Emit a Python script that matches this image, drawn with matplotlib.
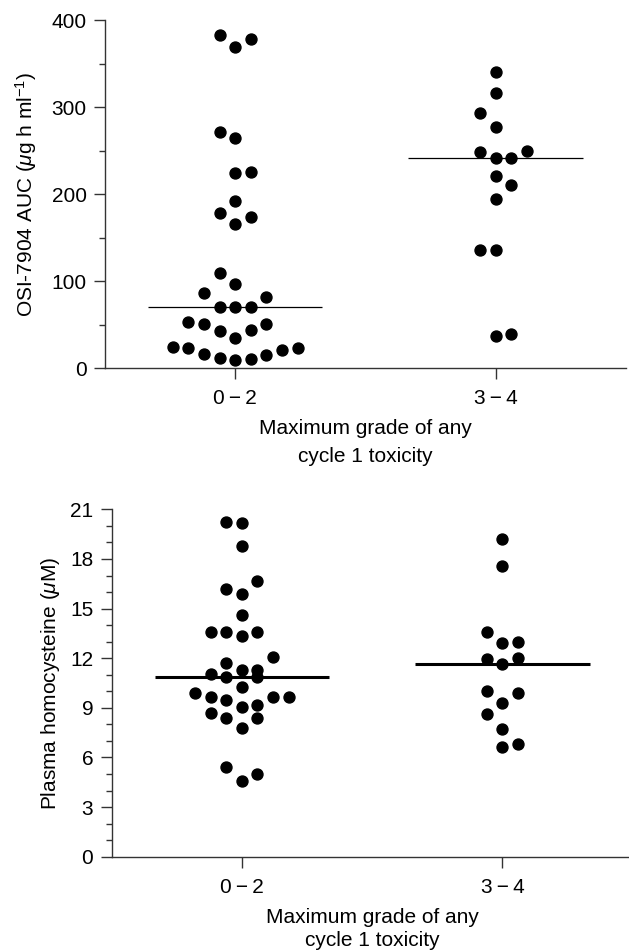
import matplotlib
matplotlib.use('Agg')
import matplotlib.pyplot as plt
import numpy as np
from matplotlib.ticker import MultipleLocator

plt.rcParams['font.family'] = ['Liberation Sans', 'DejaVu Sans']
plt.rcParams['mathtext.fontset'] = 'custom'
plt.rcParams['mathtext.rm'] = 'Liberation Sans'
plt.rcParams['mathtext.it'] = 'Liberation Sans:italic'
plt.rcParams['font.size'] = 15

groups = ['0\u2009\u2212\u20092', '3\u2009\u2212\u20094']
xlabel = 'Maximum grade of any\ncycle 1 toxicity'

# OSI-7904 AUC, values; slot = column in the dot swarm
auc_low = [382.7, 368.5, 378.5, 270.8, 263.9, 224.0, 225.5, 191.8, 178.7, 173.7,
           165.7, 109.7, 96.6, 86.7, 81.7, 69.8, 69.8, 69.8, 52.5, 50.6, 50.6,
           42.2, 43.3, 34.9, 24.2, 23.4, 16.5, 11.5, 9.6, 10.7, 15.3, 20.3, 23.4]
auc_low_slot = [-1, 0, 1, -1, 0, 0, 1, 0, -1, 1, 0, -1, 0, -2, 2, -1, 0, 1,
                -3, -2, 2, -1, 1, 0, -4, -3, -2, -1, 0, 1, 2, 3, 4]
auc_high = [340.6, 316.4, 292.6, 277.3, 248.1, 249.3, 241.2, 241.2, 220.5,
            210.9, 194.8, 136.2, 135.4, 36.8, 39.5]
auc_high_slot = [0, 0, -1, 0, -1, 2, 0, 1, 0, 1, 0, -1, 0, 0, 1]

# plasma homocysteine (uM)
hcy_low = [20.25, 20.19, 18.78, 16.18, 16.69, 15.90, 14.59, 13.60, 13.60, 13.60,
           13.32, 12.09, 11.69, 11.29, 11.29, 11.04, 10.88, 10.88, 10.28, 9.92,
           9.67, 9.67, 9.67, 9.47, 9.07, 9.17, 8.67, 8.36, 8.36, 7.76, 5.40,
           4.98, 4.57]
hcy_low_slot = [-1, 0, 0, -1, 1, 0, 0, -2, -1, 1, 0, 2, -1, 0, 1, -2, -1, 1, 0,
                -3, -2, 2, 3, -1, 0, 1, -2, -1, 1, 0, -1, 1, 0]
hcy_high = [19.21, 17.59, 13.60, 12.90, 13.00, 11.93, 12.03, 11.63, 10.02,
            9.92, 9.31, 8.61, 7.70, 6.61, 6.79]
hcy_high_slot = [0, 0, -1, 0, 1, -1, 1, 0, -1, 1, 0, -1, 0, 0, 1]

SLOT_W = 0.06
AXIS_COLOR = '#333333'


def draw_panel(ax, series, slots, ylim, major, minor, ylabel, median_lw,
               label_spacing):
    for i, (vals, sl) in enumerate(zip(series, slots), start=1):
        x = i + np.array(sl) * SLOT_W
        ax.plot(x, vals, 'o', ms=7.9, color='black', mec='black',
                clip_on=False, zorder=3)
        med = np.median(vals)
        ax.hlines(med, i - 0.335, i + 0.335, color='black', lw=median_lw,
                  zorder=2)

    ax.set_xlim(0.5, 2.5)
    ax.set_ylim(*ylim)
    ax.set_xticks([1, 2])
    ax.set_xticklabels(groups)
    ax.yaxis.set_major_locator(MultipleLocator(major))
    ax.yaxis.set_minor_locator(MultipleLocator(minor))

    for s in ['top', 'right']:
        ax.spines[s].set_visible(False)
    for s in ['left', 'bottom']:
        ax.spines[s].set_color(AXIS_COLOR)
        ax.spines[s].set_linewidth(1.0)

    ax.tick_params(axis='y', which='major', length=7.7, width=1.0,
                   color=AXIS_COLOR, pad=5.5, labelsize=15)
    ax.tick_params(axis='y', which='minor', length=4.2, width=1.0,
                   color=AXIS_COLOR)
    ax.tick_params(axis='x', which='major', length=7.7, width=1.0,
                   color=AXIS_COLOR, pad=7.5, labelsize=15)

    ax.set_xlabel(xlabel, fontsize=15, linespacing=label_spacing, labelpad=8)
    ax.set_ylabel(ylabel, fontsize=15, va='center')


fig = plt.figure(figsize=(6.29, 9.51), dpi=100)

ax1 = fig.add_axes([0.1669, 0.6130, 0.8283, 0.3659])
draw_panel(ax1, [auc_low, auc_high], [auc_low_slot, auc_high_slot],
           (0, 400), 100, 50,
           r'OSI-7904 AUC ($\mu$g h ml$^{-1}$)', 0.9, 1.55)
ax1.yaxis.set_label_coords(-0.151, 0.5)

ax2 = fig.add_axes([0.1773, 0.0992, 0.8286, 0.3652])
draw_panel(ax2, [hcy_low, hcy_high], [hcy_low_slot, hcy_high_slot],
           (0, 21), 3, 1,
           r'Plasma homocysteine ($\mu$M)', 2.2, 1.3)
ax2.yaxis.set_label_coords(-0.118, 0.5)

fig.savefig('out.png', dpi=100)
